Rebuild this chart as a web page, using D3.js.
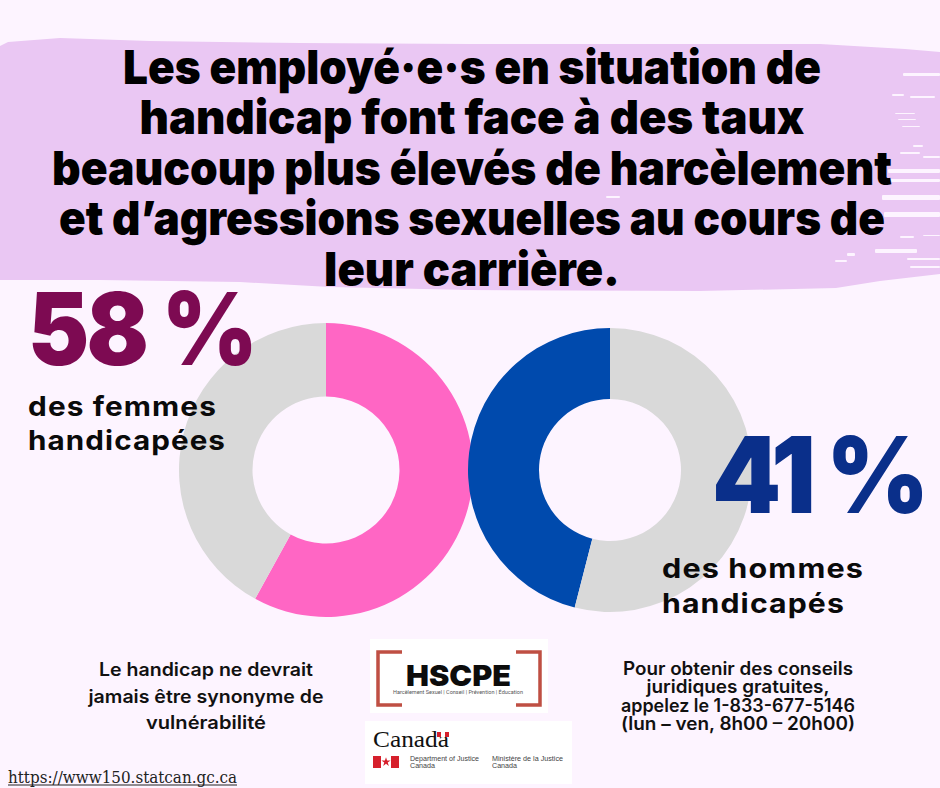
<!DOCTYPE html>
<html>
<head>
<meta charset="utf-8">
<script src="https://cdn.jsdelivr.net/npm/d3@7"></script>
<style>
  html, body { margin: 0; padding: 0; background: #fdf4ff; }
  svg { display: block; }
</style>
</head>
<body>
<script>
var width = 940
var height = 788

// values as drawn in the picture, the printed labels are kept apart
var groups = ['femmes', 'hommes']
var drawnShares = [58, 46]
var shareLabels = ['58 %', '41 %']
var groupLabels = [['des femmes', 'handicapées'], ['des hommes', 'handicapés']]
var titleLines = [
  'Les employé·e·s en situation de',
  'handicap font face à des taux',
  'beaucoup plus élevés de harcèlement',
  'et d’agressions sexuelles au cours de',
  'leur carrière.'
]
var titleWidths = [698, 665, 840, 826, 296]
var titleBaselines = [84, 134, 185, 235, 286]
var noteLeft = ['Le handicap ne devrait', 'jamais être synonyme de', 'vulnérabilité']
var noteLeftWidths = [214, 235, 120]
var noteRight = ['Pour obtenir des conseils', 'juridiques gratuites,', 'appelez le 1-833-677-5146', '(lun – ven, 8h00 – 20h00)']
var noteRightWidths = [230, 183, 234, 234]

var svg = d3.select('body').append('svg')
  .attr('width', width)
  .attr('height', height)

svg.append('rect').attr('width', width).attr('height', height).attr('fill', '#fdf4ff')

// brush stroke behind the title
var brush = [[0, 46], [8, 42], [60, 38], [150, 41], [300, 43], [470, 44], [820, 44], [905, 49], [940, 52],
  [940, 274], [880, 281], [836, 288], [700, 291], [470, 290], [330, 287], [240, 282], [100, 280], [0, 280]]
svg.append('path')
  .attr('d', d3.line().curve(d3.curveLinear)(brush) + 'Z')
  .attr('fill', '#eac7f3')

// worn bristle marks at the right end of the stroke
var streaks = [[903, 73, 37, 3], [892, 94, 12, 2], [910, 96, 25, 2], [895, 113, 20, 1], [898, 119, 18, 1], [902, 126, 18, 1],
  [913, 145, 10, 2], [900, 152, 20, 2], [923, 156, 17, 2], [888, 169, 52, 4], [890, 179, 50, 3], [882, 195, 58, 5],
  [884, 212, 56, 5], [900, 236, 14, 2], [923, 235, 17, 1], [875, 249, 42, 4], [835, 260, 12, 2], [847, 253, 8, 3],
  [907, 258, 33, 2], [910, 266, 30, 2], [606, 196, 14, 2]]
svg.selectAll('.streak')
  .data(streaks)
  .enter().append('rect')
  .attr('class', 'streak')
  .attr('x', function (d) { return d[0] })
  .attr('y', function (d) { return d[1] })
  .attr('width', function (d) { return d[2] })
  .attr('height', function (d) { return d[3] })
  .attr('rx', 1)
  .attr('fill', '#fdf4ff')

var pie = d3.pie().sort(null)

var donuts = [
  { cx: 326, cy: 470, r: 147, inner: 73.5, color: '#ff66c4', start: 0, end: 2 * Math.PI },
  { cx: 610, cy: 470, r: 142, inner: 71, color: '#004aad', start: 0, end: -2 * Math.PI }
]

donuts.forEach(function (dn, i) {
  var arc = d3.arc().innerRadius(dn.inner).outerRadius(dn.r)
  var slices = pie.startAngle(dn.start).endAngle(dn.end)([drawnShares[i], 100 - drawnShares[i]])
  svg.append('g')
    .attr('class', 'donut-' + groups[i])
    .attr('transform', 'translate(' + dn.cx + ',' + dn.cy + ')')
    .selectAll('path')
    .data(slices)
    .enter().append('path')
    .attr('d', arc)
    .attr('fill', function (d, j) { return j === 0 ? dn.color : '#d9d9d9' })
})

function addText (x, y, txt, size, weight, fill, family, anchor, len) {
  var t = svg.append('text')
    .attr('x', x)
    .attr('y', y)
    .attr('font-size', size)
    .attr('font-weight', weight)
    .attr('fill', fill)
    .attr('font-family', family)
    .attr('text-anchor', anchor)
    .text(txt)
  if (len) t.attr('textLength', len).attr('lengthAdjust', 'spacingAndGlyphs')
  return t
}

var titleFont = 'Inter, sans-serif'
titleLines.forEach(function (line, i) {
  addText(472, titleBaselines[i], line, 47, 900, '#000', titleFont, 'middle', titleWidths[i])
})

// big figures: tight tracking and a horizontal squeeze
addText(0, 0, shareLabels[0], 101, 900, '#7d0a52', titleFont, 'start')
  .attr('letter-spacing', -3)
  .attr('transform', 'translate(28,365) scale(0.91,1)')
addText(0, 0, shareLabels[1], 106, 900, '#0a2f8a', titleFont, 'start')
  .attr('letter-spacing', -5)
  .attr('transform', 'translate(712,513) scale(0.93,1)')

var labelFont = 'Inter, sans-serif'
groupLabels[0].forEach(function (line, i) {
  addText(28, 416 + i * 34, line, 27, 700, '#0a0a0a', labelFont, 'start', i === 0 ? 189 : 198).attr('letter-spacing', 1)
})
groupLabels[1].forEach(function (line, i) {
  addText(662, 578 + i * 35, line, 27, 700, '#0a0a0a', labelFont, 'start', i === 0 ? 202 : 183).attr('letter-spacing', 1)
})

noteLeft.forEach(function (line, i) {
  addText(206, 676 + i * 26.5, line, 18, 600, '#111', 'Inter, sans-serif', 'middle', noteLeftWidths[i])
})
noteRight.forEach(function (line, i) {
  addText(738, 675 + i * 18.3, line, 18, 600, '#111', 'Inter, sans-serif', 'middle', noteRightWidths[i])
})

addText(8, 783, 'https://www150.statcan.gc.ca', 16, 400, '#222', '"DejaVu Serif", serif', 'start', 229)
svg.append('line').attr('x1', 8).attr('x2', 237).attr('y1', 785).attr('y2', 785).attr('stroke', '#222')

// HSCPE logo card
svg.append('rect').attr('x', 370).attr('y', 639).attr('width', 178).attr('height', 74).attr('fill', '#fff')
svg.append('path').attr('fill', 'none').attr('stroke', '#bf4f43').attr('stroke-width', 3.5)
  .attr('d', 'M402,652H378V705H402M516,652H540V705H516')
addText(458.5, 686, 'HSCPE', 29, 900, '#0c0c0c', 'Inter, sans-serif', 'middle', 105)
addText(458, 694, 'Harcèlement Sexuel | Conseil | Prévention | Éducation', 4.5, 400, '#555', 'Roboto, sans-serif', 'middle', 130)

// Canada wordmark card
svg.append('rect').attr('x', 365).attr('y', 721).attr('width', 207).attr('height', 63).attr('fill', '#fff')
addText(373, 747, 'Canada', 23, 400, '#111', '"Liberation Serif", serif', 'start', 76)
var red = '#d6202c'
svg.append('rect').attr('x', 373).attr('y', 756).attr('width', 8).attr('height', 12).attr('fill', red)
svg.append('rect').attr('x', 391).attr('y', 756).attr('width', 8).attr('height', 12).attr('fill', red)
svg.append('path')
  .attr('d', d3.symbol().type(d3.symbolStar).size(26)())
  .attr('transform', 'translate(386,762)')
  .attr('fill', red)
svg.append('rect').attr('x', 437).attr('y', 732).attr('width', 12).attr('height', 5).attr('fill', red)
svg.append('rect').attr('x', 441).attr('y', 732).attr('width', 4).attr('height', 5).attr('fill', '#fff')

var deptLines = [[410, 761, 'Department of Justice', 69], [410, 768, 'Canada', 25], [492, 761, 'Ministère de la Justice', 71], [492, 768, 'Canada', 25]]
deptLines.forEach(function (d) {
  addText(d[0], d[1], d[2], 7, 400, '#444', '"Liberation Sans", sans-serif', 'start', d[3])
})
</script>
</body>
</html>
